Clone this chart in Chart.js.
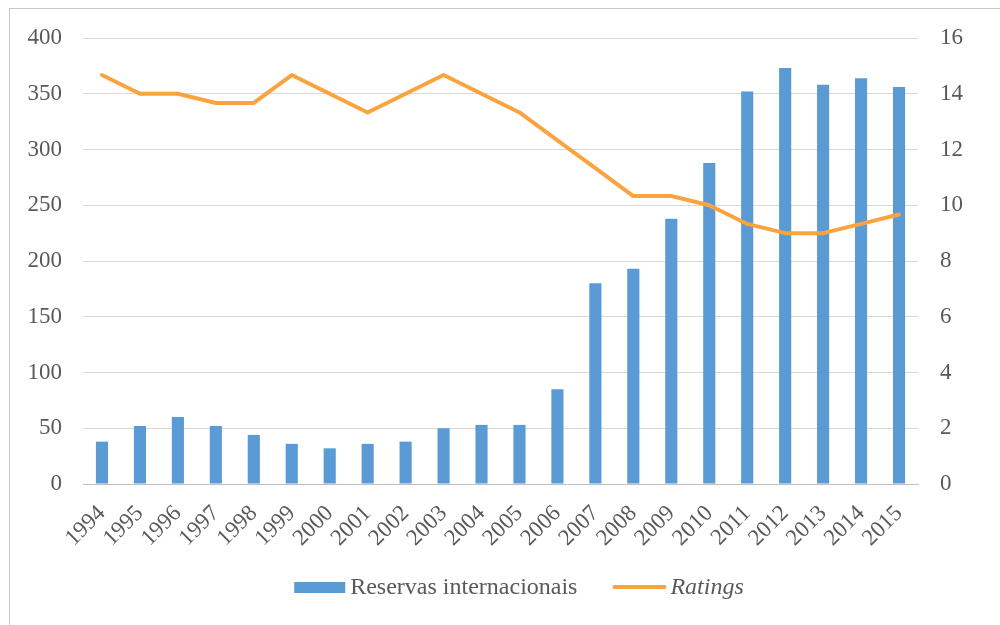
<!DOCTYPE html>
<html>
<head>
<meta charset="utf-8">
<script src="https://cdn.jsdelivr.net/npm/chart.js@4/dist/chart.umd.min.js"></script>
<style>
    html, body { margin: 0; padding: 0; background: #fff; overflow: hidden; }
    .frame {
        position: absolute; left: 9px; top: 8px;
        width: 1100px; height: 700px;
        border: 1px solid #c8c8c8;
    }
    .wrap { position: absolute; left: 0; top: 0; width: 1000px; height: 625px; }
</style>
</head>
<body>
<div class="frame"></div>
<div class="wrap"><canvas id="reservasChart" width="1000" height="625"></canvas></div>
<script>
// Anos, reservas (US$ bilhões) e ratings
const anos = ['1994', '1995', '1996', '1997', '1998', '1999', '2000', '2001', '2002', '2003', '2004',
              '2005', '2006', '2007', '2008', '2009', '2010', '2011', '2012', '2013', '2014', '2015'];
const reservas = [38, 52, 60, 52, 44, 36, 32, 36, 38, 50, 53, 53, 85, 180, 193, 238, 288, 352, 373, 358, 364, 356];
const ratings = [14.67, 14, 14, 13.67, 13.67, 14.67, 14, 13.33, 14, 14.67, 14, 13.33, 12.33, 11.33, 10.33, 10.33,
                 10, 9.33, 9, 9, 9.33, 9.67];
const ticksEsquerda = [0, 50, 100, 150, 200, 250, 300, 350, 400];
const ticksDireita = [0, 2, 4, 6, 8, 10, 12, 14, 16];

const AZUL = '#5b9bd5';
const LARANJA = '#fba43f';
const TEXTO = '#595959';
const FONTE = '"Liberation Serif", "Times New Roman", serif';
const TAM = 23;
const TAM_LEGENDA = 24;

// Legenda desenhada à mão: caixa para as barras, traço para a linha (em itálico)
const legendaPlugin = {
    id: 'legendaPlugin',
    afterDraw(chart) {
        const ctx = chart.ctx;
        const y = 588;
        ctx.save();
        ctx.textBaseline = 'middle';
        ctx.font = TAM_LEGENDA + 'px ' + FONTE;
        const t1 = 'Reservas internacionais';
        const w1 = ctx.measureText(t1).width;
        ctx.font = 'italic ' + TAM_LEGENDA + 'px ' + FONTE;
        const t2 = 'Ratings';
        const w2 = ctx.measureText(t2).width;
        const total = 51 + 5 + w1 + 35 + 54 + 4 + w2;
        let x = 519 - total / 2;

        ctx.fillStyle = AZUL;
        ctx.fillRect(x, y - 6, 51, 11);
        x += 56;
        ctx.fillStyle = TEXTO;
        ctx.font = TAM_LEGENDA + 'px ' + FONTE;
        ctx.fillText(t1, x, y);
        x += w1 + 35;

        ctx.strokeStyle = LARANJA;
        ctx.lineWidth = 4;
        ctx.lineCap = 'round';
        ctx.beginPath();
        ctx.moveTo(x + 2, y - 1);
        ctx.lineTo(x + 52, y - 1);
        ctx.stroke();
        x += 58;
        ctx.font = 'italic ' + TAM_LEGENDA + 'px ' + FONTE;
        ctx.fillText(t2, x, y);
        ctx.restore();
    }
};

const ctx = document.getElementById('reservasChart').getContext('2d');
new Chart(ctx, {
    data: {
        labels: anos,
        datasets: [
            {
                type: 'line',
                label: 'Ratings',
                data: ratings,
                yAxisID: 'y2',
                borderColor: LARANJA,
                borderWidth: 4,
                pointRadius: 0,
                tension: 0,
                borderJoinStyle: 'round',
                borderCapStyle: 'round',
                order: 0
            },
            {
                type: 'bar',
                label: 'Reservas internacionais',
                data: reservas,
                yAxisID: 'y',
                backgroundColor: AZUL,
                barPercentage: 0.32,
                categoryPercentage: 1,
                order: 1
            }
        ]
    },
    options: {
        responsive: false,
        animation: false,
        layout: { padding: { top: 38, bottom: 0, left: 0, right: 0 } },
        plugins: {
            legend: { display: false },
            tooltip: { enabled: false }
        },
        scales: {
            x: {
                grid: { display: false, drawTicks: false },
                border: { display: true, color: '#bfbfbf', width: 1 },
                ticks: {
                    color: TEXTO,
                    font: { family: FONTE, size: TAM },
                    autoSkip: false,
                    maxRotation: 45,
                    minRotation: 45,
                    padding: 16
                },
                afterFit: s => { s.height = 141; }
            },
            y: {
                position: 'left',
                min: 0,
                max: 400,
                afterBuildTicks: s => { s.ticks = ticksEsquerda.map(v => ({ value: v })); },
                grid: { color: '#d9d9d9', lineWidth: 1, drawTicks: false },
                border: { display: false },
                ticks: {
                    color: TEXTO,
                    font: { family: FONTE, size: TAM },
                    padding: 21
                },
                afterFit: s => { s.width = 83; }
            },
            y2: {
                position: 'right',
                min: 0,
                max: 16,
                afterBuildTicks: s => { s.ticks = ticksDireita.map(v => ({ value: v })); },
                grid: { display: false, drawTicks: false },
                border: { display: false },
                ticks: {
                    color: TEXTO,
                    font: { family: FONTE, size: TAM },
                    padding: 22
                },
                afterFit: s => { s.width = 82; }
            }
        }
    },
    plugins: [legendaPlugin]
});
</script>
</body>
</html>
